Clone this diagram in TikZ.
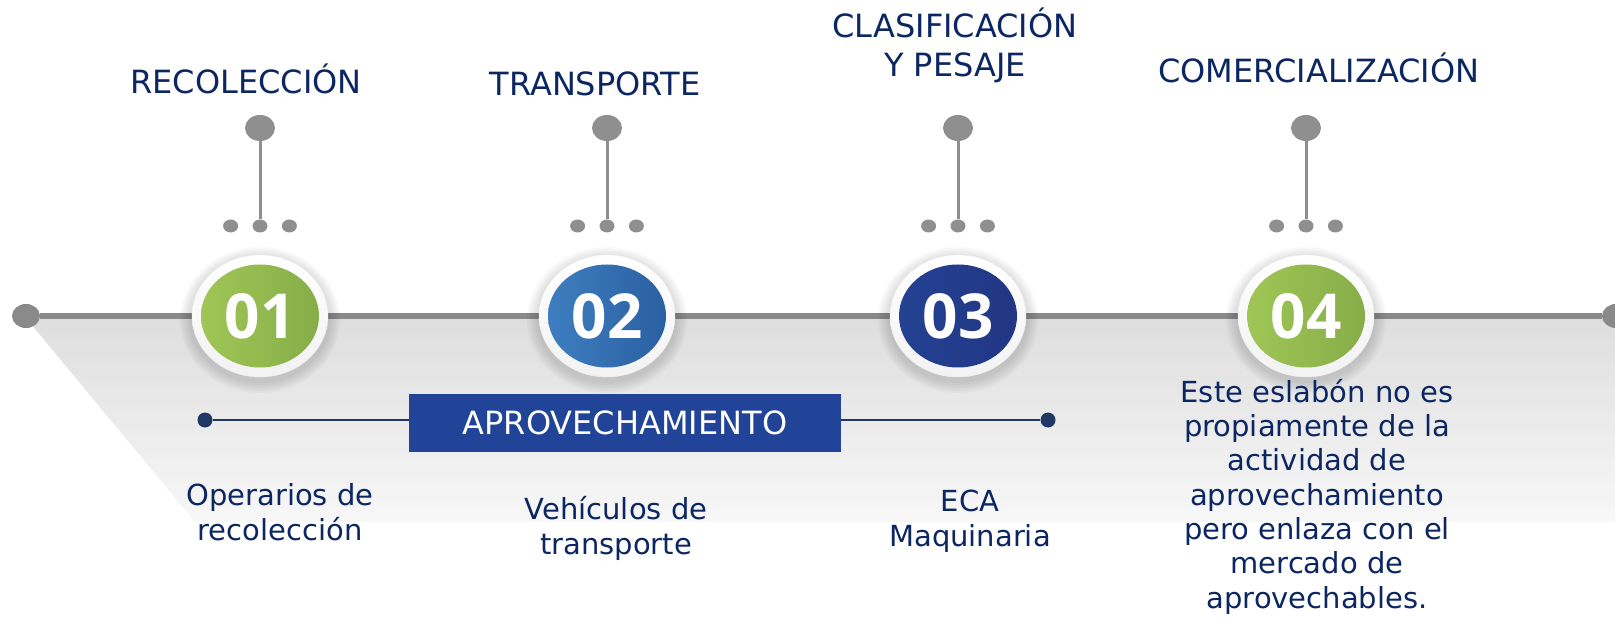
\documentclass[tikz,border=0pt]{standalone}
\usepackage{fontspec}
\setmainfont{DejaVu Sans}
\newfontfamily\digitfont{Open Sans}
\definecolor{linegray}{RGB}{138, 138, 138}
\definecolor{pingray}{RGB}{143, 143, 143}
\definecolor{titleblue}{RGB}{12, 38, 98}
\definecolor{boxblue}{RGB}{33, 68, 152}
\definecolor{barblue}{RGB}{31, 56, 102}
\definecolor{greenA}{RGB}{160, 198, 86}
\definecolor{greenB}{RGB}{134, 173, 72}
\definecolor{blueA}{RGB}{62, 126, 192}
\definecolor{blueB}{RGB}{42, 96, 162}
\definecolor{navyA}{RGB}{36, 66, 146}
\definecolor{navyB}{RGB}{33, 54, 132}
\usetikzlibrary{shapes.geometric, positioning}
\tikzset{
    ringbox/.style={ellipse, minimum width=136pt, minimum height=122pt,
        inner sep=0pt, top color=white, bottom color=black!5, draw=black!6},
    stepnum/.style={ellipse, minimum width=118pt, minimum height=103pt,
        inner sep=0pt, text=white,
        font=\digitfont\bfseries\fontsize{62}{62}\selectfont},
    steptitle/.style={anchor=base, text=titleblue, align=center,
        font=\fontsize{32}{39}\selectfont},
    stepdesc/.style={anchor=base, text=titleblue, align=center,
        font=\fontsize{29}{34.3}\selectfont},
    bigdot/.style={ellipse, fill=linegray, inner sep=0pt,
        minimum width=28pt, minimum height=24pt},
    pinhead/.style={ellipse, fill=pingray, inner sep=0pt,
        minimum width=30pt, minimum height=26pt},
    pinfoot/.style={ellipse, fill=pingray, inner sep=0pt,
        minimum width=15pt, minimum height=13pt},
    bardot/.style={circle, fill=barblue, inner sep=0pt, minimum size=15pt},
}

\begin{document}
\begin{tikzpicture}[x=1pt, y=-1pt]
    \useasboundingbox (0, 0) rectangle (1615, 620);
    % floor shadow
    \shade[top color=black!13, bottom color=black!3]
        (26, 318) -- (1615, 318) -- (1615, 522) -- (195, 522) -- cycle;

    \node[bigdot] (ldot) at (26, 316) {};
    \node[bigdot] (rdot) at (1616, 316) {};
    \draw[linegray, line width=6pt] (ldot) -- (rdot);

    \foreach \i/\x/\ca/\cb in {1/260/greenA/greenB, 2/607/blueA/blueB,
            3/958/navyA/navyB, 4/1306/greenA/greenB} {
        \foreach \k in {1, ..., 6} {
            \pgfmathsetmacro\rx{68 + 2*\k}
            \pgfmathsetmacro\ry{61 + 2*\k}
            \fill[black, opacity=.025] (\x, 320) ellipse [x radius=\rx pt, y radius=\ry pt];
        }
        \node[ringbox] (r\i) at (\x, 316) {};
        \node[stepnum, left color=\ca, right color=\cb] (n\i) at (\x, 316) {0\i};
        % pin above the step
        \node[pinhead] (p\i) at (\x, 128) {};
        \node[pinfoot] (q\i) at (\x, 226) {};
        \node[pinfoot, left=14pt of q\i] (ql\i) {};
        \node[pinfoot, right=14pt of q\i] (qr\i) {};
        \draw[pingray, line width=3pt] (p\i) -- (q\i);
    }

    % base = last line
    \node[steptitle] (t1) at (246, 94) {RECOLECCIÓN};
    \node[steptitle] (t2) at (595, 96) {TRANSPORTE};
    \node[steptitle] (t3) at (955, 77) {CLASIFICACIÓN\\Y PESAJE};
    \node[steptitle] (t4) at (1319, 83) {COMERCIALIZACIÓN};

    \node[bardot] (bl) at (205, 420) {};
    \node[bardot] (br) at (1048, 420) {};
    \draw[barblue, line width=2pt] (bl) -- (br);
    \node[fill=boxblue, text=white, minimum width=432pt, minimum height=58pt,
        inner sep=0pt, font=\fontsize{32}{32}\selectfont] (apro) at (625, 423)
        {APROVECHAMIENTO};

    \node[stepdesc] (d1) at (280, 540) {Operarios de\\recolección};
    \node[stepdesc] (d2) at (616, 554) {Vehículos de\\transporte};
    \node[stepdesc] (d3) at (970, 546) {ECA\\Maquinaria};
    \node[stepdesc] (d4) at (1317, 608) {Este eslabón no es\\propiamente de la\\
        actividad de\\aprovechamiento\\pero enlaza con el\\mercado de\\aprovechables.};
\end{tikzpicture}
\end{document}
